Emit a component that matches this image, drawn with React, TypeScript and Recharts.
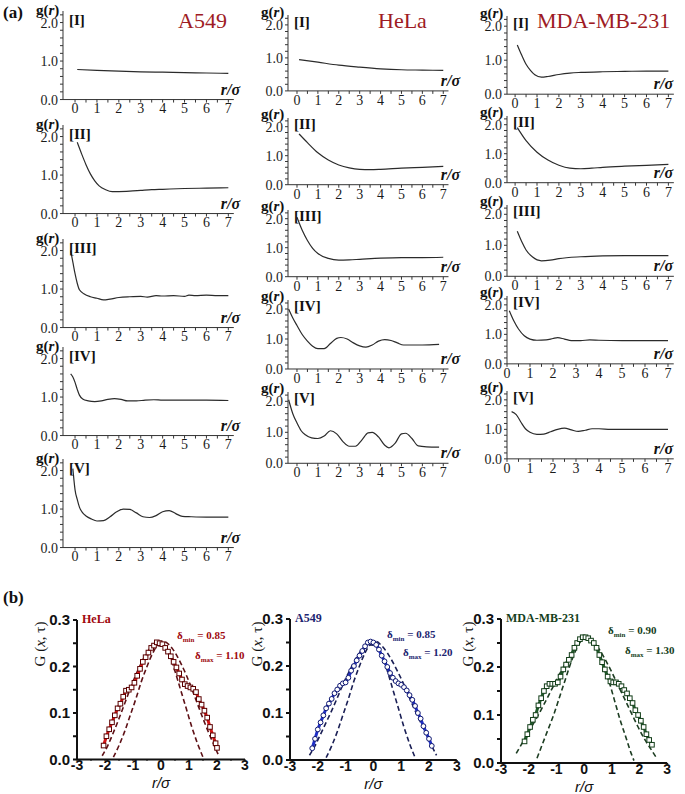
import React from 'react';
import { LineChart, Line, XAxis, YAxis } from 'recharts';

type Pt = [number, number];

const SERIF = 'Liberation Serif';
const SANS = 'Liberation Sans';

// (a) g(r) against r/σ, one list per panel
const A549_I: Pt[] = [[0.1, 0.78], [1, 0.76], [2, 0.74], [3, 0.72], [4, 0.71], [5, 0.7], [6, 0.69], [7, 0.68]];
const A549_II: Pt[] = [[0.1, 1.85], [0.3, 1.55], [0.5, 1.27], [0.7, 1.03], [0.9, 0.85], [1.1, 0.72], [1.4, 0.62], [1.7, 0.57], [2, 0.57], [2.5, 0.58], [3, 0.6], [3.5, 0.62], [4, 0.63], [5, 0.65], [6, 0.66], [7, 0.67]];
const A549_III: Pt[] = [[-0.2, 2.0], [-0.1, 1.7], [0, 1.4], [0.1, 1.15], [0.2, 0.98], [0.4, 0.88], [0.7, 0.8], [1, 0.76], [1.3, 0.72], [1.6, 0.74], [2, 0.78], [2.5, 0.8], [3, 0.81], [3.3, 0.79], [3.7, 0.83], [4, 0.82], [4.5, 0.83], [5, 0.81], [5.2, 0.84], [5.5, 0.83], [6, 0.84], [6.5, 0.83], [7, 0.83]];
const A549_IV: Pt[] = [[-0.2, 1.6], [-0.1, 1.52], [0, 1.38], [0.1, 1.2], [0.2, 1.05], [0.35, 0.95], [0.6, 0.9], [0.9, 0.88], [1.2, 0.9], [1.5, 0.94], [1.8, 0.96], [2.1, 0.94], [2.4, 0.9], [2.8, 0.9], [3.2, 0.92], [3.6, 0.93], [4, 0.92], [5, 0.92], [6, 0.92], [7, 0.91]];
const A549_V: Pt[] = [[-0.1, 2.05], [-0.05, 1.75], [0, 1.5], [0.1, 1.25], [0.2, 1.05], [0.35, 0.9], [0.5, 0.82], [0.75, 0.74], [1, 0.69], [1.3, 0.7], [1.6, 0.8], [1.9, 0.93], [2.2, 1.0], [2.5, 0.99], [2.8, 0.9], [3.1, 0.8], [3.4, 0.78], [3.7, 0.83], [4, 0.93], [4.3, 0.96], [4.6, 0.88], [4.9, 0.81], [5.3, 0.8], [6, 0.79], [7, 0.79]];

const HELA_I: Pt[] = [[0.1, 0.95], [1, 0.87], [2, 0.78], [3, 0.72], [4, 0.67], [5, 0.64], [6, 0.63], [7, 0.62]];
const HELA_II: Pt[] = [[0.1, 1.75], [0.5, 1.45], [1, 1.1], [1.5, 0.85], [2, 0.68], [2.5, 0.58], [3, 0.53], [3.5, 0.52], [4, 0.53], [5, 0.57], [6, 0.6], [7, 0.63]];
const HELA_III: Pt[] = [[0, 2.05], [0.25, 1.6], [0.5, 1.25], [0.75, 0.98], [1, 0.8], [1.5, 0.63], [2, 0.57], [2.5, 0.58], [3, 0.6], [4, 0.64], [5, 0.66], [6, 0.66], [7, 0.67]];
const HELA_IV: Pt[] = [[-0.4, 2.0], [-0.2, 1.7], [0, 1.45], [0.25, 1.15], [0.5, 0.93], [0.75, 0.76], [1, 0.68], [1.3, 0.68], [1.6, 0.85], [1.9, 1.02], [2.1, 1.05], [2.4, 1.0], [2.7, 0.87], [3, 0.77], [3.3, 0.73], [3.6, 0.8], [3.9, 0.93], [4.2, 0.98], [4.5, 0.95], [4.8, 0.87], [5.1, 0.8], [5.5, 0.8], [6, 0.8], [6.8, 0.82]];
const HELA_V: Pt[] = [[-0.4, 2.05], [-0.2, 1.6], [0, 1.3], [0.2, 1.05], [0.4, 0.92], [0.7, 0.82], [1, 0.8], [1.3, 0.88], [1.6, 1.05], [1.9, 0.95], [2.2, 0.7], [2.5, 0.55], [2.8, 0.55], [3.1, 0.75], [3.4, 0.98], [3.6, 1.0], [3.9, 0.85], [4.2, 0.58], [4.4, 0.5], [4.7, 0.65], [5, 0.95], [5.2, 0.97], [5.5, 0.8], [5.8, 0.56], [6.2, 0.53], [6.8, 0.52]];

const MDA_I: Pt[] = [[0.1, 1.45], [0.3, 1.15], [0.5, 0.88], [0.7, 0.7], [0.9, 0.57], [1.2, 0.5], [1.5, 0.52], [2, 0.58], [2.5, 0.62], [3, 0.64], [4, 0.66], [5, 0.67], [6, 0.68], [7, 0.68]];
const MDA_II: Pt[] = [[0.1, 1.9], [0.5, 1.45], [1, 1.05], [1.5, 0.78], [2, 0.6], [2.5, 0.5], [3, 0.48], [3.5, 0.5], [4, 0.53], [5, 0.57], [6, 0.6], [7, 0.63]];
const MDA_III: Pt[] = [[0.1, 1.45], [0.3, 1.12], [0.5, 0.85], [0.8, 0.62], [1.2, 0.5], [1.6, 0.52], [2, 0.57], [3, 0.63], [4, 0.66], [5, 0.67], [6, 0.67], [7, 0.67]];
const MDA_IV: Pt[] = [[0.1, 1.8], [0.3, 1.45], [0.5, 1.18], [0.75, 0.95], [1, 0.84], [1.3, 0.8], [1.7, 0.81], [2, 0.86], [2.2, 0.89], [2.5, 0.84], [2.8, 0.79], [3.2, 0.79], [3.6, 0.81], [4, 0.8], [5, 0.79], [6, 0.79], [7, 0.79]];
const MDA_V: Pt[] = [[0.2, 1.6], [0.4, 1.5], [0.6, 1.25], [0.8, 1.02], [1, 0.9], [1.3, 0.83], [1.6, 0.84], [1.9, 0.92], [2.2, 1.0], [2.5, 1.04], [2.8, 0.98], [3.1, 0.93], [3.4, 0.97], [3.7, 1.02], [4, 1.02], [4.5, 1.0], [5, 1.0], [6, 1.0], [7, 1.0]];

const gTicksX = [0, 0.5, 1, 1.5, 2, 2.5, 3, 3.5, 4, 4.5, 5, 5.5, 6, 6.5, 7];
const gTicksY = [0, 0.2, 0.4, 0.6, 0.8, 1, 1.2, 1.4, 1.6, 1.8, 2, 2.2];
const romans = ['[I]', '[II]', '[III]', '[IV]', '[V]'];

// (b) G(x,τ) against r/σ: measured points and the two dashed fits
const HELA_PTS: Pt[] = [[-2.05, 0.03], [-1.95, 0.05], [-1.85, 0.065], [-1.75, 0.08], [-1.65, 0.095], [-1.55, 0.11], [-1.45, 0.12], [-1.35, 0.135], [-1.25, 0.148], [-1.15, 0.15], [-1.05, 0.155], [-0.95, 0.165], [-0.85, 0.18], [-0.75, 0.195], [-0.65, 0.21], [-0.55, 0.22], [-0.45, 0.23], [-0.35, 0.24], [-0.25, 0.245], [-0.15, 0.252], [-0.05, 0.25], [0.05, 0.248], [0.15, 0.24], [0.25, 0.232], [0.35, 0.222], [0.45, 0.21], [0.55, 0.198], [0.65, 0.185], [0.75, 0.172], [0.85, 0.162], [0.95, 0.158], [1.05, 0.155], [1.15, 0.152], [1.25, 0.145], [1.35, 0.13], [1.45, 0.118], [1.55, 0.105], [1.65, 0.09], [1.75, 0.07], [1.85, 0.052], [1.95, 0.035], [2.0, 0.025]];
const HELA_NARROW: Pt[] = [[-1.7, 0.005], [-1.5, 0.03], [-1.3, 0.06], [-1.1, 0.095], [-0.9, 0.13], [-0.7, 0.168], [-0.5, 0.2], [-0.3, 0.228], [-0.1, 0.245], [0.1, 0.245], [0.3, 0.228], [0.5, 0.19], [0.7, 0.15], [0.9, 0.11], [1.1, 0.07], [1.3, 0.035], [1.5, 0.005]];
const HELA_WIDE: Pt[] = [[-2.1, 0.008], [-1.9, 0.03], [-1.7, 0.058], [-1.5, 0.088], [-1.3, 0.12], [-1.1, 0.152], [-0.9, 0.182], [-0.7, 0.208], [-0.5, 0.23], [-0.3, 0.246], [-0.1, 0.254], [0.1, 0.254], [0.3, 0.246], [0.5, 0.23], [0.7, 0.208], [0.9, 0.182], [1.1, 0.152], [1.3, 0.12], [1.5, 0.088], [1.7, 0.058], [1.9, 0.03], [2.05, 0.01]];

const A549_PTS: Pt[] = [[-2.2, 0.025], [-2.1, 0.045], [-2.0, 0.065], [-1.9, 0.08], [-1.8, 0.095], [-1.7, 0.11], [-1.6, 0.12], [-1.5, 0.13], [-1.4, 0.142], [-1.3, 0.15], [-1.2, 0.158], [-1.1, 0.163], [-1.0, 0.165], [-0.9, 0.175], [-0.8, 0.19], [-0.7, 0.2], [-0.6, 0.212], [-0.5, 0.222], [-0.4, 0.232], [-0.3, 0.242], [-0.2, 0.25], [-0.1, 0.252], [0.0, 0.25], [0.1, 0.245], [0.2, 0.235], [0.3, 0.222], [0.4, 0.21], [0.5, 0.198], [0.6, 0.185], [0.7, 0.175], [0.8, 0.168], [0.9, 0.163], [1.0, 0.16], [1.1, 0.155], [1.2, 0.148], [1.3, 0.138], [1.4, 0.128], [1.5, 0.115], [1.6, 0.1], [1.7, 0.088], [1.8, 0.072], [1.9, 0.058], [2.0, 0.045], [2.1, 0.03]];
const A549_NARROW: Pt[] = [[-1.7, 0.005], [-1.5, 0.03], [-1.3, 0.06], [-1.1, 0.095], [-0.9, 0.13], [-0.7, 0.168], [-0.5, 0.2], [-0.3, 0.228], [-0.1, 0.245], [0.1, 0.243], [0.3, 0.225], [0.5, 0.19], [0.7, 0.15], [0.9, 0.11], [1.1, 0.07], [1.3, 0.035], [1.5, 0.005]];
const A549_WIDE: Pt[] = [[-2.3, 0.01], [-2.1, 0.03], [-1.9, 0.055], [-1.7, 0.08], [-1.5, 0.105], [-1.3, 0.132], [-1.1, 0.16], [-0.9, 0.185], [-0.7, 0.208], [-0.5, 0.228], [-0.3, 0.243], [-0.1, 0.252], [0.1, 0.252], [0.3, 0.243], [0.5, 0.228], [0.7, 0.208], [0.9, 0.185], [1.1, 0.16], [1.3, 0.132], [1.5, 0.105], [1.7, 0.08], [1.9, 0.055], [2.1, 0.03], [2.27, 0.01]];

const MDA_PTS: Pt[] = [[-2.15, 0.045], [-2.05, 0.06], [-1.95, 0.075], [-1.85, 0.09], [-1.75, 0.1], [-1.65, 0.12], [-1.55, 0.135], [-1.45, 0.15], [-1.35, 0.16], [-1.25, 0.165], [-1.15, 0.165], [-1.05, 0.165], [-0.95, 0.168], [-0.85, 0.18], [-0.75, 0.195], [-0.65, 0.205], [-0.55, 0.215], [-0.45, 0.225], [-0.35, 0.24], [-0.25, 0.25], [-0.15, 0.258], [-0.05, 0.262], [0.05, 0.262], [0.15, 0.26], [0.25, 0.255], [0.35, 0.25], [0.45, 0.24], [0.55, 0.225], [0.65, 0.21], [0.75, 0.195], [0.85, 0.18], [0.95, 0.17], [1.05, 0.168], [1.15, 0.168], [1.25, 0.165], [1.35, 0.16], [1.45, 0.152], [1.55, 0.145], [1.65, 0.135], [1.75, 0.125], [1.85, 0.11], [1.95, 0.1], [2.05, 0.088], [2.15, 0.075], [2.25, 0.06], [2.35, 0.048], [2.45, 0.038]];
const MDA_NARROW: Pt[] = [[-1.7, 0.01], [-1.5, 0.04], [-1.3, 0.07], [-1.1, 0.1], [-0.9, 0.135], [-0.7, 0.17], [-0.5, 0.205], [-0.3, 0.235], [-0.1, 0.255], [0.1, 0.262], [0.3, 0.255], [0.5, 0.235], [0.7, 0.205], [0.9, 0.17], [1.1, 0.13], [1.3, 0.09], [1.5, 0.055], [1.7, 0.02], [1.8, 0.005]];
const MDA_WIDE: Pt[] = [[-2.45, 0.02], [-2.2, 0.045], [-1.95, 0.07], [-1.7, 0.095], [-1.45, 0.122], [-1.2, 0.15], [-0.95, 0.178], [-0.7, 0.205], [-0.45, 0.23], [-0.2, 0.252], [0.0, 0.262], [0.2, 0.26], [0.45, 0.245], [0.7, 0.222], [0.95, 0.195], [1.2, 0.165], [1.45, 0.135], [1.7, 0.105], [1.95, 0.075], [2.2, 0.048], [2.4, 0.03], [2.6, 0.012]];

const bTicksX = [-3, -2.5, -2, -1.5, -1, -0.5, 0, 0.5, 1, 1.5, 2, 2.5, 3];
const bTicksY = [0, 0.05, 0.1, 0.15, 0.2, 0.25, 0.3];

const toXY = (pts: Pt[]) => pts.map(([x, y]) => ({ x, y }));

function Txt({ x, y, anchor = 'start', style, children }: any) {
  const tx = anchor === 'start' ? '0' : anchor === 'middle' ? '-50%' : '-100%';
  return (
    <div
      style={{
        position: 'absolute',
        left: x,
        top: y,
        transform: `translate(${tx}, -50%)`,
        whiteSpace: 'nowrap',
        lineHeight: 1,
        fontFamily: SERIF,
        color: '#111',
        ...style,
      }}
    >
      {children}
    </div>
  );
}

function GrPanel({ pts, tag, axisX, base, xMin, xUnit, yUnit, sigmaRight }: any) {
  const xMax = 7.25;
  const yMax = 2.3;
  const yw = 40;
  const xh = 22;
  const rm = 6;
  const tm = 8;
  const plotW = (xMax - xMin) * xUnit;
  const plotH = yMax * yUnit;
  const tick = { fontFamily: SERIF, fontSize: 14, fill: '#1a1a1a' };
  const y2 = base - 2 * yUnit;
  return (
    <>
      <div style={{ position: 'absolute', left: axisX - yw, top: base - plotH - tm, fontFamily: SERIF }}>
        <LineChart
          width={yw + plotW + rm}
          height={plotH + xh + tm}
          data={pts.map(([r, g]: Pt) => ({ r, g }))}
          margin={{ top: tm, right: rm, bottom: 0, left: 0 }}
          style={{ fontFamily: SERIF }}
        >
          <XAxis
            type="number"
            dataKey="r"
            domain={[xMin, xMax]}
            ticks={gTicksX}
            interval={0}
            allowDataOverflow
            height={xh}
            tick={tick}
            tickSize={3}
            tickMargin={1}
            stroke="#333"
            tickFormatter={(v: number) => (Number.isInteger(v) ? String(v) : '')}
          />
          <YAxis
            type="number"
            domain={[0, yMax]}
            ticks={gTicksY}
            interval={0}
            allowDataOverflow
            width={yw}
            tick={tick}
            tickSize={3}
            tickMargin={2}
            stroke="#333"
            tickFormatter={(v: number) => (Number.isInteger(v) ? v.toFixed(1) : '')}
          />
          <Line type="monotone" dataKey="g" stroke="#2b2b2b" strokeWidth={1.2} dot={false} isAnimationActive={false} />
        </LineChart>
      </div>
      <Txt x={axisX - 27} y={y2 - 13} style={{ fontSize: 15, fontWeight: 'bold' }}>
        g(<i>r</i>)
      </Txt>
      <Txt x={axisX + 6} y={y2 - 3} style={{ fontSize: 15, fontWeight: 'bold' }}>
        {tag}
      </Txt>
      <Txt x={sigmaRight} y={base - 10} anchor="end" style={{ fontSize: 16, fontWeight: 'bold', fontStyle: 'italic' }}>
        r/σ
      </Txt>
    </>
  );
}

const squareDot = (stroke: string) => (p: any) => (
  <rect key={`s${p.index}`} x={p.cx - 2.3} y={p.cy - 2.3} width={4.6} height={4.6} fill="#fff" stroke={stroke} strokeWidth={1} />
);

function GxPanel({ title, pts, narrow, wide, axisX, base, xUnit, yUnit, lineColor, dotColor, dashColor, round, labelColor, dMin, dMax, dPos, gLabelX }: any) {
  const yw = 46;
  const xh = 20;
  const rm = 8;
  const tm = 10;
  const plotW = 6 * xUnit;
  const plotH = 0.3 * yUnit;
  const tick = { fontFamily: SANS, fontSize: 14, fontWeight: 'bold', fill: '#111' };
  return (
    <>
      <div style={{ position: 'absolute', left: axisX - yw, top: base - plotH - tm, fontFamily: SANS }}>
        <LineChart width={yw + plotW + rm} height={plotH + xh + tm} margin={{ top: tm, right: rm, bottom: 0, left: 0 }}>
          <XAxis
            type="number"
            dataKey="x"
            domain={[-3, 3]}
            ticks={bTicksX}
            interval={0}
            allowDataOverflow
            height={xh}
            tick={tick}
            tickSize={1}
            tickMargin={0}
            stroke="#111"
            strokeWidth={2}
            tickFormatter={(v: number) => (Number.isInteger(v) ? String(v) : '')}
          />
          <YAxis
            type="number"
            dataKey="y"
            domain={[0, 0.3]}
            ticks={bTicksY}
            interval={0}
            allowDataOverflow
            width={yw}
            tick={{ ...tick, fontSize: 15 }}
            tickSize={4}
            tickMargin={3}
            stroke="#111"
            strokeWidth={2}
            tickFormatter={(v: number) => (Math.round(v * 100) % 10 === 0 ? v.toFixed(1) : '')}
          />
          <Line data={toXY(wide)} type="monotone" dataKey="y" stroke={dashColor} strokeWidth={1.6} strokeDasharray="5 3" dot={false} isAnimationActive={false} />
          <Line data={toXY(narrow)} type="monotone" dataKey="y" stroke={dashColor} strokeWidth={1.6} strokeDasharray="5 3" dot={false} isAnimationActive={false} />
          <Line
            data={toXY(pts)}
            type="linear"
            dataKey="y"
            stroke={lineColor}
            strokeWidth={3}
            dot={round ? { r: 2.4, fill: '#fff', stroke: dotColor, strokeWidth: 1 } : squareDot(dotColor)}
            isAnimationActive={false}
          />
        </LineChart>
      </div>
      <Txt x={axisX + 5} y={base - plotH - 1} style={{ fontSize: 12, fontWeight: 'bold', color: labelColor }}>
        {title}
      </Txt>
      <Txt x={dPos[0]} y={dPos[1]} style={{ fontSize: 11, fontWeight: 'bold', color: labelColor }}>
        δ<sub style={{ fontSize: 7 }}>min</sub> = {dMin}
      </Txt>
      <Txt x={dPos[2]} y={dPos[3]} style={{ fontSize: 11, fontWeight: 'bold', color: labelColor }}>
        δ<sub style={{ fontSize: 7 }}>max</sub> = {dMax}
      </Txt>
      <Txt x={gLabelX} y={644} anchor="middle" style={{ fontSize: 15, transform: 'translate(-50%, -50%) rotate(-90deg)' }}>
        G (<i>x</i>, τ)
      </Txt>
      <Txt x={axisX + 3 * xUnit} y={base + 23} anchor="middle" style={{ fontSize: 15, fontStyle: 'italic', fontFamily: SANS }}>
        r/σ
      </Txt>
    </>
  );
}

const colA = { curves: [A549_I, A549_II, A549_III, A549_IV, A549_V], axisX: 63, xMin: [-0.55, -0.55, -0.55, -0.55, -0.55], xUnit: [21.9, 21.9, 21.9, 21.9, 21.9], base: [100, 214, 328, 436, 548], yUnit: [38.5, 38.5, 38.5, 38.5, 38.5], sigmaRight: 240 };
const colH = { curves: [HELA_I, HELA_II, HELA_III, HELA_IV, HELA_V], axisX: 288, xMin: [-0.43, -0.43, -0.43, -0.43, -0.43], xUnit: [20.9, 20.9, 20.9, 20.9, 20.9], base: [91, 185, 277, 369, 463], yUnit: [33, 29, 29, 30, 31], sigmaRight: 460 };
const colM = { curves: [MDA_I, MDA_II, MDA_III, MDA_IV, MDA_V], axisX: 507, xMin: [-0.37, -0.37, -0.37, 0, 0], xUnit: [21.9, 21.9, 21.9, 23, 23], base: [94, 183, 276, 364, 459], yUnit: [34, 29, 31, 29.5, 29.5], sigmaRight: 673 };

export default function App() {
  return (
    <div style={{ position: 'absolute', left: 0, top: 0, width: 685, height: 794, background: '#fff', overflow: 'hidden', fontFamily: SERIF }}>
      {[colA, colH, colM].map((c, ci) =>
        c.curves.map((pts, ri) => (
          <GrPanel
            key={`${ci}-${ri}`}
            pts={pts}
            tag={romans[ri]}
            axisX={c.axisX}
            base={c.base[ri]}
            xMin={c.xMin[ri]}
            xUnit={c.xUnit[ri]}
            yUnit={c.yUnit[ri]}
            sigmaRight={c.sigmaRight}
          />
        )),
      )}
      <Txt x={3} y={12} style={{ fontSize: 17, fontWeight: 'bold' }}>(a)</Txt>
      <Txt x={3} y={597} style={{ fontSize: 17, fontWeight: 'bold' }}>(b)</Txt>
      <Txt x={178} y={21} style={{ fontSize: 22, color: '#9e1b24' }}>A549</Txt>
      <Txt x={378} y={21} style={{ fontSize: 22, color: '#9e1b24' }}>HeLa</Txt>
      <Txt x={537} y={21} style={{ fontSize: 22, color: '#9e1b24' }}>MDA-MB-231</Txt>

      <GxPanel
        title="HeLa"
        pts={HELA_PTS}
        narrow={HELA_NARROW}
        wide={HELA_WIDE}
        axisX={77}
        base={759}
        xUnit={28}
        yUnit={465}
        lineColor="#d41414"
        dotColor="#5a0000"
        dashColor="#5e1116"
        labelColor="#a0080e"
        dMin="0.85"
        dMax="1.10"
        dPos={[177, 637, 195, 657]}
        gLabelX={40}
      />
      <GxPanel
        title="A549"
        pts={A549_PTS}
        narrow={A549_NARROW}
        wide={A549_WIDE}
        axisX={290}
        base={760}
        xUnit={27.8}
        yUnit={470}
        lineColor="#1f2fc8"
        dotColor="#0d1670"
        dashColor="#1a1f55"
        labelColor="#1c2470"
        round
        dMin="0.85"
        dMax="1.20"
        dPos={[387, 636, 403, 654]}
        gLabelX={257}
      />
      <GxPanel
        title="MDA-MB-231"
        pts={MDA_PTS}
        narrow={MDA_NARROW}
        wide={MDA_WIDE}
        axisX={501}
        base={763}
        xUnit={27.7}
        yUnit={480}
        lineColor="#1f5a2a"
        dotColor="#123d18"
        dashColor="#1d3d22"
        labelColor="#163f1c"
        dMin="0.90"
        dMax="1.30"
        dPos={[608, 632, 625, 652]}
        gLabelX={468}
      />
    </div>
  );
}
